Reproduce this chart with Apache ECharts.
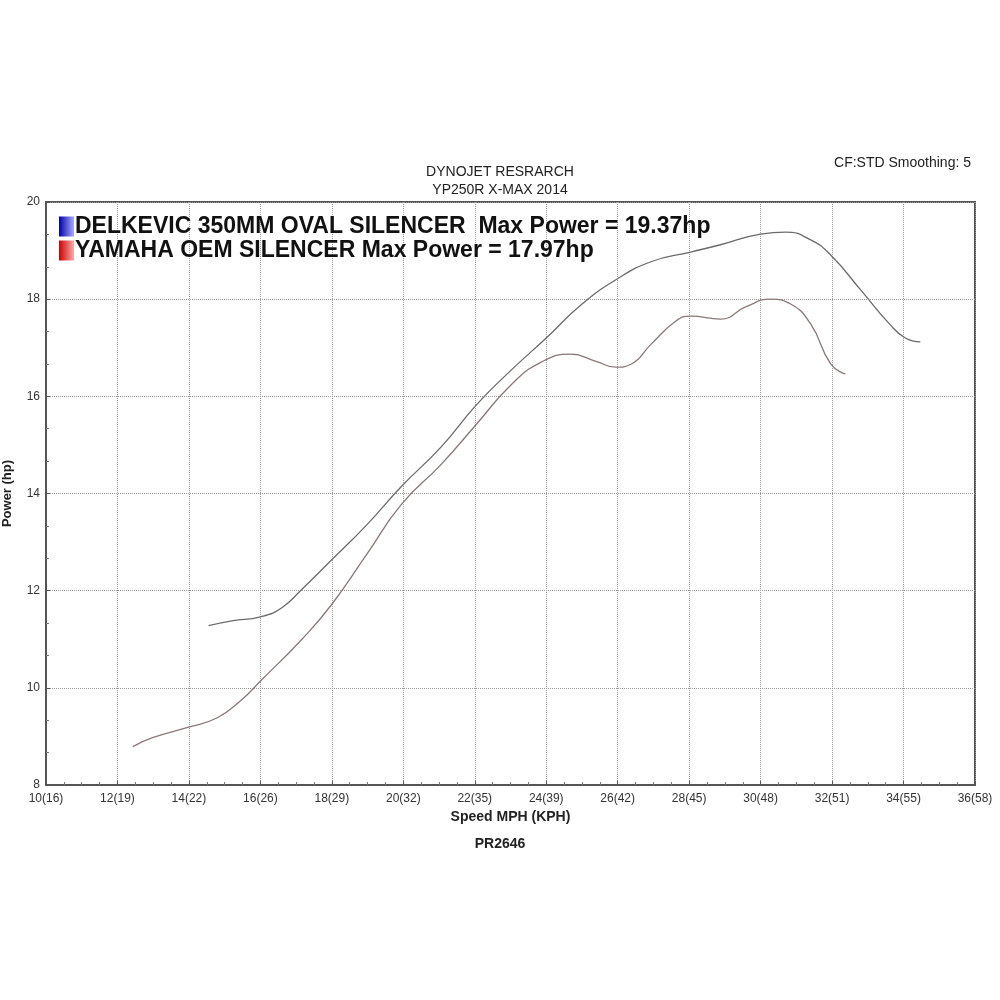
<!DOCTYPE html><html><head><meta charset="utf-8"><script src="https://cdn.jsdelivr.net/npm/echarts@6/dist/echarts.min.js"></script>
<style>html,body{margin:0;background:#fff}#c{width:1000px;height:1000px}</style></head><body><div id="c"></div><script>
const delkevicSpeed=[14.55,15.2,16.0,16.6,17.15,17.99,18.97,19.94,21.06,22.04,23.02,24.0,24.97,25.95,26.93,28.04,28.88,30.0,30.7,31.4,31.96,32.8,33.63,34.05,34.47];
const delkevicPower=[11.28,11.38,11.46,11.65,12.02,12.63,13.35,14.14,14.96,15.82,16.54,17.2,17.88,18.4,18.77,18.97,19.12,19.34,19.38,19.22,18.91,18.19,17.47,17.2,17.12];
const yamahaSpeed=[12.43,12.96,13.94,14.78,15.47,16.03,17.15,17.99,18.97,19.94,21.06,22.04,23.02,23.85,24.69,25.39,25.95,26.37,26.93,27.63,28.04,28.88,29.58,30.28,30.84,31.4,31.96,32.37];
const yamahaPower=[8.79,8.97,9.18,9.38,9.75,10.16,10.99,11.71,12.74,13.77,14.6,15.42,16.24,16.7,16.87,16.72,16.6,16.66,17.07,17.55,17.65,17.59,17.84,18.0,17.9,17.49,16.67,16.46];
const xTickLabels={10:'10(16)',12:'12(19)',14:'14(22)',16:'16(26)',18:'18(29)',20:'20(32)',22:'22(35)',24:'24(39)',26:'26(42)',28:'28(45)',30:'30(48)',32:'32(51)',34:'34(55)',36:'36(58)'};
const legendNames=['DELKEVIC 350MM OVAL SILENCER  Max Power = 19.37hp','YAMAHA OEM SILENCER Max Power = 17.97hp'];
const zip=(a,b)=>a.map((v,i)=>[v,b[i]]);
const f='Arial, "Liberation Sans", sans-serif';
const c=echarts.init(document.getElementById('c'));
c.setOption({
 animation:false,
 grid:{left:46,right:25,top:202,bottom:215,show:true,borderColor:'#555',borderWidth:2,outerBoundsMode:'none',containLabel:false},
 xAxis:{type:'value',min:10,max:36,interval:2,
  axisLine:{lineStyle:{color:'#555',width:2}},axisTick:{show:true,inside:true,length:4,lineStyle:{color:'#555'}},
  minorTick:{show:true,splitNumber:4,length:3,lineStyle:{color:'#777'}},
  axisLabel:{formatter:v=>xTickLabels[v],color:'#333',fontFamily:f,fontSize:12},
  splitLine:{show:true,lineStyle:{color:'#999',type:'dotted'}},
  name:'Speed MPH (KPH)',nameLocation:'middle',nameGap:24,nameTextStyle:{fontWeight:'bold',fontSize:14,fontFamily:f,color:'#222'}},
 yAxis:{type:'value',min:8,max:20,interval:2,
  axisLine:{lineStyle:{color:'#555',width:2}},axisTick:{show:true,inside:true,length:4,lineStyle:{color:'#555'}},
  minorTick:{show:true,splitNumber:3,length:3,lineStyle:{color:'#777'}},
  axisLabel:{color:'#333',fontFamily:f,fontSize:12,margin:6},
  splitLine:{show:true,lineStyle:{color:'#999',type:'dotted'}},
  name:'Power (hp)',nameLocation:'middle',nameGap:32,nameTextStyle:{fontWeight:'bold',fontSize:13,fontFamily:f,color:'#222'}},
 series:[
  {name:legendNames[0],type:'line',smooth:true,showSymbol:false,data:zip(delkevicSpeed,delkevicPower),lineStyle:{color:'#6b6b6b',width:1.3}},
  {name:legendNames[1],type:'line',smooth:true,showSymbol:false,data:zip(yamahaSpeed,yamahaPower),lineStyle:{color:'#8a7878',width:1.3}}
 ],
 title:[
  {text:'DYNOJET RESRARCH\nYP250R X-MAX 2014',left:'center',top:158,textStyle:{fontSize:14,fontWeight:'normal',fontFamily:f,color:'#222',lineHeight:18}},
  {text:'CF:STD Smoothing: 5',right:24,top:151,textStyle:{fontSize:14,fontWeight:'normal',fontFamily:f,color:'#222'}},
  {text:'PR2646',left:'center',top:832,textStyle:{fontSize:14,fontWeight:'bold',fontFamily:f,color:'#222'}}
 ],
 legend:{left:54,top:210,orient:'vertical',itemGap:1,itemWidth:15,itemHeight:20,icon:'rect',
  data:[{name:legendNames[0],itemStyle:{color:new echarts.graphic.LinearGradient(0,0,1,0,[{offset:0,color:'#0000aa'},{offset:1,color:'#aaaaff'}]),borderColor:'#666'}},
        {name:legendNames[1],itemStyle:{color:new echarts.graphic.LinearGradient(0,0,1,0,[{offset:0,color:'#cc0000'},{offset:1,color:'#ffaaaa'}]),borderColor:'#666'}}],
  textStyle:{fontSize:23,fontWeight:'bold',fontFamily:f,color:'#111',padding:[0,0,0,-4]}}
});
</script></body></html>
